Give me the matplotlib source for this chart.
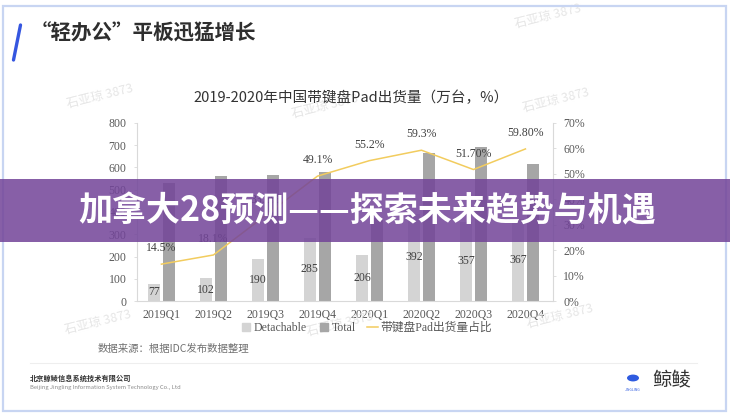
import matplotlib
matplotlib.use('Agg')
import matplotlib.pyplot as plt
from matplotlib.patches import Rectangle, Circle
from matplotlib.lines import Line2D
import numpy as np

W, H = 730, 418

categories = ['2019Q1', '2019Q2', '2019Q3', '2019Q4', '2020Q1', '2020Q2', '2020Q3', '2020Q4']
detachable = [77, 102, 190, 285, 206, 392, 357, 367]
total = [531, 563, 566, 580, 373, 665, 692, 615]
share = [14.5, 18.1, 33.6, 49.1, 55.2, 59.3, 51.7, 59.8]
share_labels = ['14.5%', '18.1%', '33.6%', '49.1%', '55.2%', '59.3%', '51.70%', '59.80%']
left_ticks = [0, 100, 200, 300, 400, 500, 600, 700, 800]
right_ticks = [0, 10, 20, 30, 40, 50, 60, 70]
legend_labels = ['Detachable', 'Total', '带键盘Pad出货量占比']

CJK = ['Noto Sans CJK SC', 'DejaVu Sans']
SERIF = ['Liberation Serif', 'Noto Sans CJK SC']

def fx(x):
    return x / W

def fy(y):
    return 1 - y / H

fig = plt.figure(figsize=(W / 100, H / 100), dpi=100)
fig.patch.set_facecolor('white')

# slide border
fig.patches.append(Rectangle((fx(3), fy(411)), fx(726) - fx(3), fy(6) - fy(411),
                             transform=fig.transFigure, fill=False,
                             edgecolor='#c8d5f2', linewidth=1.6, zorder=1))
# blue slash
fig.lines.append(Line2D([fx(20.5), fx(13.5)], [fy(25), fy(60)], transform=fig.transFigure,
                        color='#3556e0', linewidth=2.4, solid_capstyle='round', zorder=2))
fig.text(fx(31), fy(33), '“轻办公”平板迅猛增长', family=CJK, fontsize=14.8,
         fontweight='bold', color='#2e2e2e', ha='left', va='center')

# watermarks
for (wx, wy) in [(100, 96), (325, 106), (556, 100), (98, 322), (340, 324), (560, 316), (548, 16)]:
    fig.text(fx(wx), fy(wy), '石亚琼 3873', family=CJK, fontsize=9, color='#e6e6e6',
             rotation=14, ha='center', va='center', zorder=0.5)

# chart title
fig.text(fx(351), fy(98), '2019-2020年中国带键盘Pad出货量（万台，%）', family=CJK,
         fontsize=10.5, color='#333333', ha='center', va='center')

ax = fig.add_axes([fx(137), fy(301), fx(553) - fx(137), fy(123) - fy(301)])
ax.set_facecolor('none')
x = np.arange(len(categories))
bw = 0.23
off = 0.145
ax.bar(x - off, detachable, width=bw, color='#d4d4d4', zorder=2)
ax.bar(x + off, total, width=bw, color='#a6a6a6', zorder=2)
for xi, v in zip(x, detachable):
    ax.text(xi - off, v / 2, str(v), family=SERIF, fontsize=8.5, color='#404040',
            ha='center', va='center', zorder=3)
ax.set_xlim(-0.47, 7.53)
ax.set_ylim(0, 800)
ax.set_yticks(left_ticks)
ax.set_xticks(x)
ax.set_xticklabels(categories)
for lab in ax.get_xticklabels() + ax.get_yticklabels():
    lab.set_family(SERIF)
    lab.set_fontsize(8.5)
    lab.set_color('#595959')
ax.tick_params(axis='x', length=0, pad=6)
ax.tick_params(axis='y', length=2.5, width=0.6, color='#d9d9d9', pad=5)
for s in ['top', 'right']:
    ax.spines[s].set_visible(False)
for s in ['left', 'bottom']:
    ax.spines[s].set_color('#d9d9d9')
    ax.spines[s].set_linewidth(0.8)

ax2 = ax.twinx()
ax2.set_ylim(0, 70)
ax2.set_yticks(right_ticks)
ax2.set_yticklabels([f'{t}%' for t in right_ticks])
ax2.plot(x, share, color='#f2cc5e', linewidth=1.1, zorder=4)
for xi, v, lab in zip(x, share, share_labels):
    ax2.annotate(lab, (xi, v), xytext=(0, 7), textcoords='offset points', family=SERIF,
                 fontsize=8.5, color='#404040', ha='center', va='bottom')
for lab in ax2.get_yticklabels():
    lab.set_family(SERIF)
    lab.set_fontsize(8.5)
    lab.set_color('#595959')
ax2.tick_params(axis='y', length=2.5, width=0.6, color='#d9d9d9', pad=5)
for s in ['top', 'left', 'bottom']:
    ax2.spines[s].set_visible(False)
ax2.spines['right'].set_color('#d9d9d9')
ax2.spines['right'].set_linewidth(0.8)

handles = [Line2D([], [], marker='s', linestyle='none', markersize=6, color='#d4d4d4'),
           Line2D([], [], marker='s', linestyle='none', markersize=6, color='#a6a6a6'),
           Line2D([], [], color='#f2cc5e', linewidth=1.1)]
fig.legend(handles, legend_labels, loc='center', bbox_to_anchor=(fx(366), fy(328)),
           bbox_transform=fig.transFigure, ncol=3, frameon=False,
           prop={'family': SERIF, 'size': 8.5}, handlelength=1.0, handletextpad=0.2,
           columnspacing=0.9, labelcolor='#595959')

fig.text(fx(98), fy(349), '数据来源：根据IDC发布数据整理', family=CJK, fontsize=7.5,
         color='#707070', ha='left', va='center')

# footer
fig.lines.append(Line2D([fx(30), fx(697)], [fy(363), fy(363)], transform=fig.transFigure,
                        color='#eeeeee', linewidth=0.8))
fig.text(fx(30), fy(378), '北京鲸鲮信息系统技术有限公司', family=CJK, fontsize=5.2,
         fontweight='bold', color='#333333', ha='left', va='center')
fig.text(fx(30), fy(387), 'Beijing Jingling Information System Technology Co., Ltd',
         family=CJK, fontsize=4.2, color='#8a8a8a', ha='left', va='center')
fig.patches.append(Circle((fx(633), fy(378)), 6 / W, transform=fig.transFigure,
                          facecolor='#2f5be0', edgecolor='none'))
fig.text(fx(633), fy(390), 'JINGLING', family=CJK, fontsize=2.5, color='#2f5be0',
         ha='center', va='center')
fig.text(fx(652), fy(380), '鲸鲮', family=CJK, fontsize=14, color='#333333',
         ha='left', va='center')

# purple banner
fig.patches.append(Rectangle((0, fy(242)), 1, fy(179) - fy(242), transform=fig.transFigure,
                             facecolor=(0.45, 0.27, 0.60), alpha=0.86, edgecolor='none',
                             zorder=10))
fig.text(fx(367), fy(211), '加拿大28预测——探索未来趋势与机遇', family=CJK, fontsize=24.5,
         fontweight='bold', color='white', ha='center', va='center', zorder=11)

fig.savefig('out.png', dpi=100)
